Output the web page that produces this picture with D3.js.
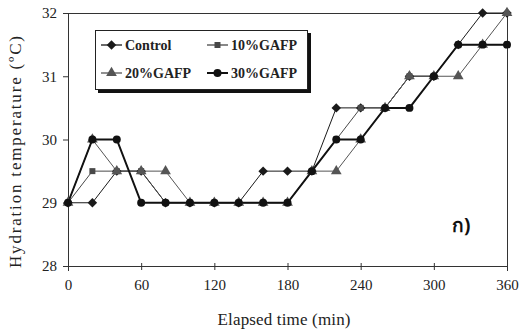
<!DOCTYPE html>
<html>
<head>
<meta charset="utf-8">
<script src="https://cdn.jsdelivr.net/npm/d3@7"></script>
<style>
  body { margin: 0; background: #fff; }
  svg { display: block; }
</style>
</head>
<body>
<script>
// Chart data
var times = [0, 20, 40, 60, 80, 100, 120, 140, 160, 180, 200, 220, 240, 260, 280, 300, 320, 340, 360];
var control = [29, 29, 29.5, 29.5, 29, 29, 29, 29, 29.5, 29.5, 29.5, 30.5, 30.5, 30.5, 31, 31, 31.5, 32, 32];
var gafp10 = [29, 29.5, 29.5, 29.5, 29, 29, 29, 29, 29, 29, 29.5, 30, 30.5, 30.5, 31, 31, 31.5, 31.5, 31.5];
var gafp20 = [29, 30, 29.5, 29.5, 29.5, 29, 29, 29, 29, 29, 29.5, 29.5, 30, 30.5, 31, 31, 31, 31.5, 32];
var gafp30 = [29, 30, 30, 29, 29, 29, 29, 29, 29, 29, 29.5, 30, 30, 30.5, 30.5, 31, 31.5, 31.5, 31.5];
var xTicks = [0, 60, 120, 180, 240, 300, 360];
var yTicks = [28, 29, 30, 31, 32];

var series = [
  {name: "Control", values: control, symbol: d3.symbolSquare, rotate: 45, size: 45, color: "#1a1a1a", width: 1},
  {name: "10%GAFP", values: gafp10, symbol: d3.symbolSquare, rotate: 0, size: 36, color: "#484848", width: 1},
  {name: "20%GAFP", values: gafp20, symbol: d3.symbolTriangle, rotate: 0, size: 50, color: "#555", width: 1},
  {name: "30%GAFP", values: gafp30, symbol: d3.symbolCircle, rotate: 0, size: 50, color: "#111", width: 2}
];

var svgWidth = 520;
var svgHeight = 333;
var margin = {top: 13, right: 13, bottom: 67, left: 68};
var chartWidth = svgWidth - margin.left - margin.right;
var chartHeight = svgHeight - margin.top - margin.bottom;

var svg = d3.select("body")
  .append("svg")
  .attr("width", svgWidth)
  .attr("height", svgHeight);

var chartGroup = svg.append("g")
  .attr("transform", `translate(${margin.left}, ${margin.top})`);

var x = d3.scaleLinear().domain([0, 360]).range([0, chartWidth]);
var y = d3.scaleLinear().domain([28, 32]).range([chartHeight, 0]);

// frame on top and right
chartGroup.append("path")
  .attr("d", `M0,0.5H${chartWidth + 0.5}V${chartHeight}`)
  .attr("fill", "none")
  .attr("stroke", "#333")
  .attr("stroke-width", 1);

var bottomAxis = d3.axisBottom(x).tickValues(xTicks).tickSize(5).tickPadding(8);
var leftAxis = d3.axisLeft(y).tickValues(yTicks).tickFormat(d3.format("d")).tickSize(5).tickPadding(6);

var gx = chartGroup.append("g")
  .attr("transform", `translate(0, ${chartHeight})`)
  .call(bottomAxis);
var gy = chartGroup.append("g").call(leftAxis);

[gx, gy].forEach(function(g) {
  g.attr("font-family", null);
  g.select(".domain").attr("stroke", "#333");
  g.selectAll(".tick line").attr("stroke", "#333");
  g.selectAll("text")
    .attr("fill", "#222")
    .style("font-family", "'Liberation Serif', serif")
    .style("font-size", "15px");
});
// x ticks cross the axis line
gx.selectAll(".tick line").attr("y1", -3).attr("y2", 4);

// axis titles
svg.append("text")
  .attr("x", 284)
  .attr("y", 325)
  .attr("text-anchor", "middle")
  .attr("textLength", 133)
  .style("font-family", "'Liberation Serif', serif")
  .style("font-size", "17px")
  .attr("fill", "#222")
  .text("Elapsed time (min)");

svg.append("text")
  .attr("transform", `translate(21, 152) rotate(-90)`)
  .attr("text-anchor", "middle")
  .attr("textLength", 232)
  .style("font-family", "'Liberation Serif', serif")
  .style("font-size", "17px")
  .attr("fill", "#222")
  .text("Hydration temperature (ºC)");

var drawLine = d3.line()
  .x(function(d, i) { return x(times[i]); })
  .y(function(d) { return y(d); });

series.forEach(function(s) {
  chartGroup.append("path")
    .attr("d", drawLine(s.values))
    .attr("fill", "none")
    .attr("stroke", s.color)
    .attr("stroke-width", s.width);
});

series.forEach(function(s) {
  chartGroup.selectAll(null)
    .data(s.values)
    .enter()
    .append("path")
    .attr("d", d3.symbol().type(s.symbol).size(s.size))
    .attr("transform", (d, i) => `translate(${x(times[i])}, ${y(d)}) rotate(${s.rotate})`)
    .attr("fill", s.color);
});

// legend box with shadow
var legend = svg.append("g").attr("transform", "translate(95, 30)");
legend.append("rect")
  .attr("x", 3).attr("y", 3)
  .attr("width", 213).attr("height", 60)
  .attr("fill", "#111");
legend.append("rect")
  .attr("x", 0.5).attr("y", 0.5)
  .attr("width", 212).attr("height", 59)
  .attr("fill", "#fff")
  .attr("stroke", "#222");

var legendPos = [[6, 15], [112, 15], [6, 43], [112, 43]];
series.forEach(function(s, i) {
  var g = legend.append("g")
    .attr("transform", `translate(${legendPos[i][0]}, ${legendPos[i][1]})`);
  g.append("line")
    .attr("x1", 0).attr("x2", 21)
    .attr("stroke", s.color)
    .attr("stroke-width", s.width === 2 ? 2 : 1.3);
  g.append("path")
    .attr("d", d3.symbol().type(s.symbol).size(s.size))
    .attr("transform", `translate(10.5, 0) rotate(${s.rotate})`)
    .attr("fill", s.color);
  g.append("text")
    .attr("x", 24).attr("y", 5)
    .style("font-family", "'Liberation Serif', serif")
    .style("font-weight", "bold")
    .style("font-size", "14px")
    .attr("fill", "#222")
    .text(s.name);
});

svg.append("text")
  .attr("x", 452).attr("y", 232)
  .style("font-family", "'Noto Sans', 'DejaVu Sans', sans-serif")
  .style("font-weight", "bold")
  .style("font-size", "19px")
  .attr("fill", "#111")
  .text("ก)");
</script>
</body>
</html>
